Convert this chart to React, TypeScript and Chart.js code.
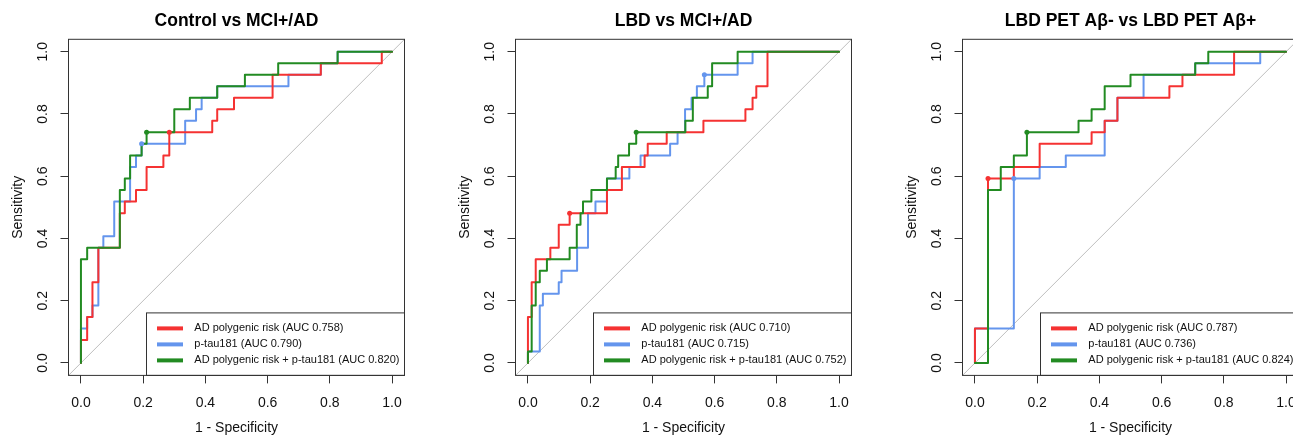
import React, { useEffect, useRef } from "react";
import { Chart, registerables } from "chart.js";

Chart.register(...registerables);

const FONT = "'Liberation Sans', Arial, Helvetica, sans-serif";

// ---------- data (x = 1 - specificity, y = sensitivity) ----------
const PANEL_TITLES = ["Control vs MCI+/AD", "LBD vs MCI+/AD", "LBD PET A\u03b2- vs LBD PET A\u03b2+"];
const SERIES_NAMES = ["AD polygenic risk", "p-tau181", "AD polygenic risk + p-tau181"];
const SERIES_COLORS = ["#F53232", "#6495ED", "#228B22"];
const AXIS_TICKS = [0, 0.2, 0.4, 0.6, 0.8, 1.0];
const AXIS_TICK_LABELS = ["0.0", "0.2", "0.4", "0.6", "0.8", "1.0"];
const AXIS_RANGE = [-0.04, 1.04];
const DIAGONAL = [[-0.04, -0.04], [1.04, 1.04]];

const AUC_CTRL = [0.758, 0.790, 0.820];
const AUC_LBD = [0.710, 0.715, 0.752];
const AUC_PET = [0.787, 0.736, 0.824];

const CTRL_RISK = [[0,0],[0,0.074],[0.020,0.074],[0.020,0.148],[0.037,0.148],[0.037,0.259],[0.056,0.259],[0.056,0.370],[0.125,0.370],[0.125,0.481],[0.141,0.481],[0.141,0.519],[0.177,0.519],[0.177,0.556],[0.211,0.556],[0.211,0.630],[0.265,0.630],[0.265,0.667],[0.284,0.667],[0.284,0.741],[0.422,0.741],[0.422,0.778],[0.438,0.778],[0.438,0.815],[0.492,0.815],[0.492,0.852],[0.616,0.852],[0.616,0.926],[0.771,0.926],[0.771,0.963],[0.967,0.963],[0.967,1],[1,1]];
const CTRL_PTAU = [[0,0],[0,0.111],[0.020,0.111],[0.020,0.148],[0.037,0.148],[0.037,0.185],[0.056,0.185],[0.056,0.370],[0.072,0.370],[0.072,0.407],[0.107,0.407],[0.107,0.519],[0.158,0.519],[0.158,0.630],[0.177,0.630],[0.177,0.667],[0.195,0.667],[0.195,0.704],[0.335,0.704],[0.335,0.778],[0.370,0.778],[0.370,0.815],[0.388,0.815],[0.388,0.852],[0.438,0.852],[0.438,0.889],[0.667,0.889],[0.667,0.926],[0.771,0.926],[0.771,0.963],[0.825,0.963],[0.825,1],[1,1]];
const CTRL_COMBO = [[0,0],[0,0.333],[0.020,0.333],[0.020,0.370],[0.125,0.370],[0.125,0.556],[0.141,0.556],[0.141,0.593],[0.158,0.593],[0.158,0.667],[0.195,0.667],[0.195,0.704],[0.211,0.704],[0.211,0.741],[0.300,0.741],[0.300,0.815],[0.350,0.815],[0.350,0.852],[0.438,0.852],[0.438,0.889],[0.527,0.889],[0.527,0.926],[0.634,0.926],[0.634,0.963],[0.825,0.963],[0.825,1],[1,1]];
const CTRL_BEST = [[0.284,0.741],[0.195,0.704],[0.211,0.741]];

const LBD_RISK = [[0,0],[0,0.148],[0.012,0.148],[0.012,0.259],[0.025,0.259],[0.025,0.333],[0.072,0.333],[0.072,0.370],[0.099,0.370],[0.099,0.444],[0.134,0.444],[0.134,0.481],[0.254,0.481],[0.254,0.556],[0.302,0.556],[0.302,0.630],[0.375,0.630],[0.375,0.667],[0.385,0.667],[0.385,0.704],[0.446,0.704],[0.446,0.741],[0.564,0.741],[0.564,0.778],[0.699,0.778],[0.699,0.815],[0.722,0.815],[0.722,0.852],[0.734,0.852],[0.734,0.889],[0.770,0.889],[0.770,1],[1,1]];
const LBD_PTAU = [[0,0],[0,0.037],[0.038,0.037],[0.038,0.185],[0.048,0.185],[0.048,0.222],[0.099,0.222],[0.099,0.259],[0.108,0.259],[0.108,0.296],[0.158,0.296],[0.158,0.370],[0.193,0.370],[0.193,0.481],[0.217,0.481],[0.217,0.519],[0.254,0.519],[0.254,0.593],[0.326,0.593],[0.326,0.630],[0.362,0.630],[0.362,0.667],[0.457,0.667],[0.457,0.704],[0.481,0.704],[0.481,0.741],[0.505,0.741],[0.505,0.815],[0.526,0.815],[0.526,0.852],[0.543,0.852],[0.543,0.889],[0.567,0.889],[0.567,0.926],[0.674,0.926],[0.674,0.963],[0.722,0.963],[0.722,1],[1,1]];
const LBD_COMBO = [[0,0],[0,0.037],[0.012,0.037],[0.012,0.185],[0.025,0.185],[0.025,0.259],[0.038,0.259],[0.038,0.296],[0.061,0.296],[0.061,0.333],[0.134,0.333],[0.134,0.370],[0.157,0.370],[0.157,0.444],[0.169,0.444],[0.169,0.481],[0.177,0.481],[0.177,0.519],[0.204,0.519],[0.204,0.556],[0.254,0.556],[0.254,0.593],[0.282,0.593],[0.282,0.630],[0.290,0.630],[0.290,0.667],[0.325,0.667],[0.325,0.704],[0.348,0.704],[0.348,0.741],[0.506,0.741],[0.506,0.778],[0.530,0.778],[0.530,0.852],[0.578,0.852],[0.578,0.889],[0.592,0.889],[0.592,0.963],[0.674,0.963],[0.674,1],[1,1]];
const LBD_BEST = [[0.134,0.481],[0.567,0.926],[0.348,0.741]];

const PET_RISK = [[0,0],[0,0.111],[0.042,0.111],[0.042,0.593],[0.125,0.593],[0.125,0.630],[0.208,0.630],[0.208,0.704],[0.375,0.704],[0.375,0.741],[0.417,0.741],[0.417,0.778],[0.458,0.778],[0.458,0.852],[0.625,0.852],[0.625,0.889],[0.667,0.889],[0.667,0.926],[0.833,0.926],[0.833,1],[1,1]];
const PET_PTAU = [[0,0],[0,0.111],[0.125,0.111],[0.125,0.593],[0.208,0.593],[0.208,0.630],[0.292,0.630],[0.292,0.667],[0.417,0.667],[0.417,0.778],[0.458,0.778],[0.458,0.852],[0.542,0.852],[0.542,0.926],[0.708,0.926],[0.708,0.963],[0.917,0.963],[0.917,1],[1,1]];
const PET_COMBO = [[0,0],[0.042,0],[0.042,0.556],[0.083,0.556],[0.083,0.630],[0.125,0.630],[0.125,0.667],[0.167,0.667],[0.167,0.741],[0.333,0.741],[0.333,0.778],[0.375,0.778],[0.375,0.815],[0.417,0.815],[0.417,0.889],[0.500,0.889],[0.500,0.926],[0.708,0.926],[0.708,0.963],[0.750,0.963],[0.750,1],[1,1]];
const PET_BEST = [[0.042,0.593],[0.125,0.593],[0.167,0.741]];

// ---------- panels ----------
type Panel = { title: string; curves: number[][][]; best: number[][]; auc: number[] };
const PANELS: Panel[] = [
  { title: PANEL_TITLES[0], curves: [CTRL_RISK, CTRL_PTAU, CTRL_COMBO], best: CTRL_BEST, auc: AUC_CTRL },
  { title: PANEL_TITLES[1], curves: [LBD_RISK, LBD_PTAU, LBD_COMBO], best: LBD_BEST, auc: AUC_LBD },
  { title: PANEL_TITLES[2], curves: [PET_RISK, PET_PTAU, PET_COMBO], best: PET_BEST, auc: AUC_PET },
];

const PANEL_W = 447;
const PANEL_H = 437;
const DRAW_ORDER = [2, 3, 1];

const toXY = (pts: number[][]) => pts.map(([x, y]) => ({ x, y }));

const boxPlugin = {
  id: "rocBox",
  afterDraw(chart: any) {
    const { ctx, chartArea } = chart;
    const ys = chart.scales.y;
    ctx.save();
    // rotated y tick labels (R style)
    ctx.fillStyle = "#111";
    ctx.font = `14px ${FONT}`;
    ctx.textAlign = "center";
    ctx.textBaseline = "middle";
    AXIS_TICKS.forEach((v, i) => {
      const py = ys.getPixelForValue(v);
      ctx.save();
      ctx.translate(chartArea.left - 25.8, py);
      ctx.rotate(-Math.PI / 2);
      ctx.fillText(AXIS_TICK_LABELS[i], 0, 0);
      ctx.restore();
    });
    // plot box
    ctx.strokeStyle = "#333";
    ctx.lineWidth = 1;
    ctx.strokeRect(chartArea.left, chartArea.top, chartArea.right - chartArea.left, chartArea.bottom - chartArea.top);
    ctx.restore();
  },
};

const legendPlugin = {
  id: "rocLegend",
  afterDatasetsDraw(chart: any) {
    const { ctx, chartArea } = chart;
    const items = chart.data.datasets
      .filter((d: any) => d.legendIndex !== undefined)
      .sort((a: any, b: any) => a.legendIndex - b.legendIndex);
    const w = 258;
    const h = 62.5;
    const left = chartArea.right - w;
    const top = chartArea.bottom - h;
    ctx.save();
    ctx.fillStyle = "#fff";
    ctx.fillRect(left, top, w, h);
    ctx.strokeStyle = "#333";
    ctx.lineWidth = 1;
    ctx.strokeRect(left, top, w, h);
    ctx.font = `11px ${FONT}`;
    ctx.textAlign = "left";
    ctx.textBaseline = "middle";
    items.forEach((d: any, i: number) => {
      const y = top + 15.5 + i * 16;
      ctx.strokeStyle = d.borderColor;
      ctx.lineWidth = 4;
      ctx.lineCap = "butt";
      ctx.beginPath();
      ctx.moveTo(left + 10.5, y);
      ctx.lineTo(left + 36.5, y);
      ctx.stroke();
      ctx.fillStyle = "#111";
      ctx.fillText(d.label, left + 47.8, y);
    });
    ctx.restore();
  },
};

function makeConfig(panel: Panel): any {
  const datasets: any[] = [];
  datasets.push({
    data: toXY(DIAGONAL),
    borderColor: "#BEBEBE",
    borderWidth: 1,
    pointRadius: 0,
    order: 4,
  });
  panel.curves.forEach((c, i) => {
    datasets.push({
      label: `${SERIES_NAMES[i]} (AUC ${panel.auc[i].toFixed(3)})`,
      legendIndex: i,
      data: toXY(c),
      borderColor: SERIES_COLORS[i],
      borderWidth: 2,
      borderJoinStyle: "round",
      borderCapStyle: "round",
      pointRadius: 0,
      tension: 0,
      fill: false,
      order: DRAW_ORDER[i],
    });
  });
  panel.best.forEach((p, i) => {
    datasets.push({
      data: toXY([p]),
      showLine: false,
      pointRadius: 2.5,
      pointBackgroundColor: SERIES_COLORS[i],
      pointBorderWidth: 0,
      order: 0,
    });
  });

  const tickFont = { family: FONT, size: 14 };
  return {
    type: "line",
    data: { datasets },
    plugins: [legendPlugin, boxPlugin],
    options: {
      responsive: false,
      animation: false,
      events: [],
      layout: { padding: { left: 0, right: 42.5, top: 0, bottom: 0 } },
      plugins: {
        legend: { display: false },
        tooltip: { enabled: false },
        title: {
          display: true,
          text: panel.title,
          fullSize: false,
          color: "#000",
          font: { family: FONT, size: 17.5, weight: "bold" },
          padding: { top: 10.8, bottom: 7.5 },
        },
      },
      scales: {
        x: {
          type: "linear",
          min: AXIS_RANGE[0],
          max: AXIS_RANGE[1],
          afterBuildTicks: (s: any) => {
            s.ticks = AXIS_TICKS.map((v) => ({ value: v }));
          },
          afterFit: (s: any) => {
            s.height = 61.6;
          },
          ticks: {
            autoSkip: false,
            maxRotation: 0,
            minRotation: 0,
            padding: 11,
            color: "#111",
            font: tickFont,
            callback: (_v: any, i: number) => AXIS_TICK_LABELS[i],
          },
          grid: { drawOnChartArea: false, drawTicks: true, tickLength: 8, color: "#333", lineWidth: 1 },
          border: { display: false },
          title: { display: true, text: "1 - Specificity", color: "#111", font: tickFont, padding: { top: 0, bottom: 0.8 } },
        },
        y: {
          type: "linear",
          min: AXIS_RANGE[0],
          max: AXIS_RANGE[1],
          afterBuildTicks: (s: any) => {
            s.ticks = AXIS_TICKS.map((v) => ({ value: v }));
          },
          afterFit: (s: any) => {
            s.width = 68.5;
          },
          ticks: { display: false },
          grid: { drawOnChartArea: false, drawTicks: true, tickLength: 8, color: "#333", lineWidth: 1 },
          border: { display: false },
          title: { display: true, text: "Sensitivity", color: "#111", font: tickFont, padding: { top: 9.9, bottom: 0 } },
        },
      },
    },
  };
}

function RocPanel({ panel, left }: { panel: Panel; left: number }) {
  const ref = useRef<HTMLCanvasElement>(null);
  useEffect(() => {
    if (!ref.current) return;
    const chart = new Chart(ref.current, makeConfig(panel));
    return () => chart.destroy();
  }, [panel]);
  return (
    <canvas
      ref={ref}
      width={PANEL_W}
      height={PANEL_H}
      style={{ position: "absolute", left, top: 0, width: PANEL_W, height: PANEL_H }}
    />
  );
}

export default function App() {
  return (
    <div
      style={{
        position: "absolute",
        left: 0,
        top: 0,
        width: 1293,
        height: 437,
        overflow: "hidden",
        background: "#fff",
      }}
    >
      {PANELS.map((p, i) => (
        <RocPanel key={i} panel={p} left={i * PANEL_W} />
      ))}
    </div>
  );
}
